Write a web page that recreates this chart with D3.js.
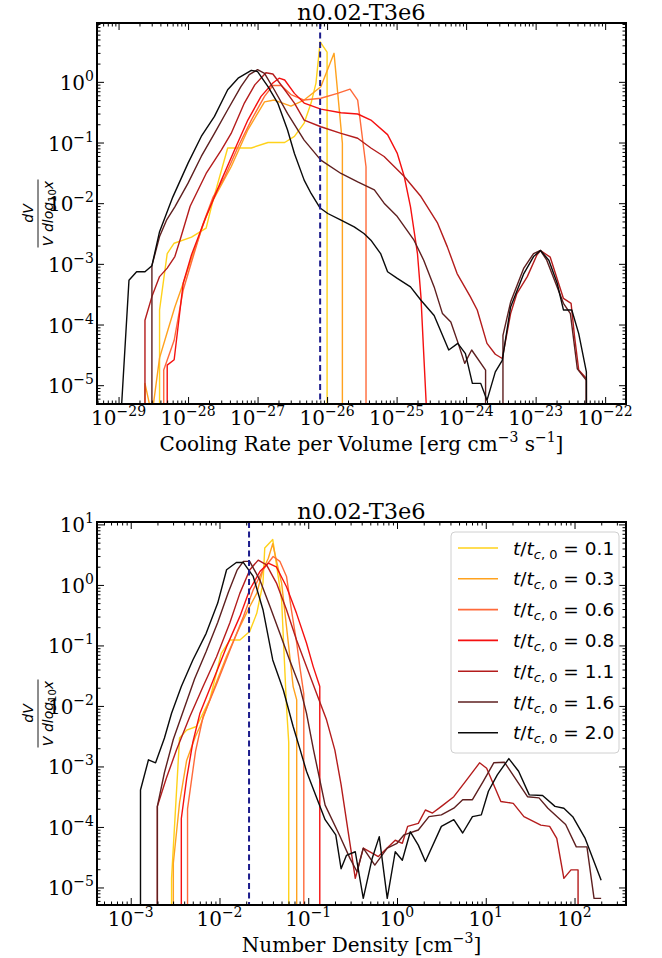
<!DOCTYPE html>
<html>
<head>
<meta charset="utf-8">
<script src="https://cdn.jsdelivr.net/npm/d3@7"></script>
<style>
  body { margin: 0; background: #fff; }
  svg { display: block; }
  text { white-space: pre; }
</style>
</head>
<body>
<svg id="chart" width="662" height="958"></svg>
<script>
// values as [log10 x, log10 y]; -30 marks an empty bin
const timeLabels = ["0.1", "0.3", "0.6", "0.8", "1.1", "1.6", "2.0"];

const coolT01 = [[-28.41,-30],[-28.41,-3.76],[-28.30,-2.83],[-28.20,-2.66],[-27.95,-2.56],[-27.74,-2.41],[-27.64,-1.95],[-27.43,-1.09],[-27.09,-1.09],[-26.85,-1.00],[-26.61,-1.00],[-26.47,-0.90],[-26.33,-0.68],[-26.23,-0.35],[-26.16,-0.02],[-26.10,0.66],[-26.00,0.49],[-26.00,-30]];
const coolT03 = [[-28.62,-30],[-28.62,-4.97],[-28.52,-5.5],[-28.41,-4.55],[-28.29,-4.09],[-28.19,-3.71],[-28.07,-3.32],[-27.95,-2.91],[-27.76,-2.28],[-27.64,-1.95],[-27.38,-1.40],[-27.14,-0.79],[-26.90,-0.33],[-26.76,-0.30],[-26.52,-0.40],[-26.33,-0.30],[-26.09,-0.08],[-25.90,0.47],[-25.78,-1.01],[-25.78,-30]];
const coolT06 = [[-28.35,-30],[-28.35,-4.75],[-28.20,-4.26],[-28.07,-3.43],[-27.95,-2.97],[-27.79,-2.36],[-27.64,-1.90],[-27.47,-1.56],[-27.28,-1.07],[-27.09,-0.63],[-26.90,-0.24],[-26.78,-0.06],[-26.66,-0.06],[-26.52,-0.21],[-26.33,-0.30],[-26.09,-0.27],[-25.85,-0.19],[-25.67,-0.12],[-25.56,-0.30],[-25.44,-1.40],[-25.44,-30]];
const coolT08 = [[-28.30,-30],[-28.30,-4.67],[-28.20,-4.58],[-28.07,-3.32],[-27.95,-2.85],[-27.74,-2.22],[-27.52,-1.62],[-27.33,-1.12],[-27.14,-0.63],[-26.95,-0.24],[-26.78,-0.02],[-26.69,0.06],[-26.61,0.03],[-26.47,-0.19],[-26.33,-0.35],[-26.09,-0.45],[-25.80,-0.51],[-25.56,-0.53],[-25.37,-0.63],[-25.13,-0.87],[-24.99,-1.18],[-24.89,-1.56],[-24.80,-2.06],[-24.70,-2.83],[-24.65,-3.54],[-24.61,-4.48],[-24.57,-5.4],[-24.50,-30]];
const coolT11 = [[-28.62,-30],[-28.62,-3.93],[-28.52,-3.54],[-28.41,-3.21],[-28.30,-3.07],[-28.19,-2.88],[-28.10,-2.55],[-27.97,-2.05],[-27.74,-1.51],[-27.52,-1.12],[-27.38,-0.85],[-27.19,-0.35],[-27.04,-0.05],[-26.88,0.15],[-26.78,0.13],[-26.61,-0.13],[-26.47,-0.35],[-26.33,-0.63],[-26.09,-0.74],[-25.80,-0.85],[-25.56,-0.93],[-25.37,-1.09],[-25.18,-1.23],[-24.89,-1.56],[-24.65,-1.89],[-24.41,-2.33],[-24.27,-2.72],[-24.13,-3.16],[-23.94,-3.54],[-23.84,-3.76],[-23.70,-4.31],[-23.58,-4.49],[-23.48,-4.56],[-23.36,-3.82],[-23.27,-3.49],[-23.12,-3.21],[-22.98,-2.85],[-22.93,-2.78],[-22.79,-2.89],[-22.60,-3.57],[-22.49,-3.65],[-22.44,-4.20],[-22.38,-4.75],[-22.27,-4.89],[-22.27,-30]];
const coolT16 = [[-28.52,-30],[-28.52,-3.03],[-28.41,-2.55],[-28.31,-2.28],[-28.19,-2.06],[-28.00,-1.67],[-27.81,-1.23],[-27.62,-0.85],[-27.43,-0.46],[-27.24,-0.08],[-27.12,0.12],[-27.00,0.20],[-26.90,0.14],[-26.76,-0.13],[-26.57,-0.52],[-26.33,-0.96],[-26.09,-1.29],[-25.80,-1.51],[-25.56,-1.65],[-25.32,-1.78],[-25.18,-2.00],[-24.99,-2.22],[-24.75,-2.61],[-24.61,-2.94],[-24.46,-3.38],[-24.34,-3.82],[-24.22,-3.96],[-24.12,-4.29],[-24.02,-4.64],[-23.92,-4.42],[-23.72,-4.75],[-23.71,-30],[-23.47,-30],[-23.47,-4.18],[-23.36,-3.63],[-23.17,-3.07],[-23.03,-2.83],[-22.93,-2.78],[-22.84,-2.94],[-22.60,-3.65],[-22.50,-3.82],[-22.40,-4.73],[-22.27,-4.92],[-22.27,-30]];
const coolT20 = [[-28.97,-5.6],[-28.85,-3.27],[-28.74,-3.13],[-28.62,-3.13],[-28.52,-3.03],[-28.41,-2.47],[-28.22,-1.90],[-28.00,-1.34],[-27.81,-0.90],[-27.62,-0.57],[-27.43,-0.13],[-27.28,0.06],[-27.09,0.19],[-27.00,0.17],[-26.85,-0.08],[-26.71,-0.35],[-26.57,-0.79],[-26.47,-1.18],[-26.33,-1.62],[-26.23,-1.84],[-26.10,-2.08],[-25.99,-2.17],[-25.80,-2.28],[-25.61,-2.39],[-25.47,-2.50],[-25.37,-2.61],[-25.23,-2.83],[-25.13,-3.13],[-24.99,-3.24],[-24.80,-3.38],[-24.65,-3.60],[-24.46,-3.85],[-24.25,-4.42],[-24.12,-4.31],[-24.01,-4.48],[-23.91,-4.97],[-23.79,-4.97],[-23.70,-5.25],[-23.58,-4.78],[-23.48,-4.59],[-23.36,-3.71],[-23.17,-3.16],[-23.03,-2.88],[-22.93,-2.78],[-22.81,-2.94],[-22.69,-3.32],[-22.60,-3.76],[-22.48,-3.76],[-22.38,-4.15],[-22.27,-4.78],[-22.27,-30]];

const densT01 = [[-2.54,-30],[-2.54,-4.85],[-2.45,-2.53],[-2.37,-2.40],[-2.26,-2.34],[-2.11,-1.90],[-1.98,-1.13],[-1.88,-0.91],[-1.77,-0.91],[-1.66,-0.77],[-1.58,-0.47],[-1.51,0.03],[-1.49,0.61],[-1.40,0.75],[-1.36,0.36],[-1.30,-0.25],[-1.245,-2.01],[-1.22,-2.6],[-1.22,-30]];
const densT03 = [[-2.52,-30],[-2.52,-4.6],[-2.45,-3.6],[-2.37,-2.9],[-2.27,-2.5],[-2.22,-2.34],[-2.07,-1.74],[-1.92,-1.18],[-1.77,-0.69],[-1.66,-0.36],[-1.58,-0.14],[-1.51,0.25],[-1.45,0.44],[-1.40,0.68],[-1.36,0.41],[-1.30,0.03],[-1.245,-0.69],[-1.17,-1.68],[-1.13,-1.9],[-1.13,-30]];
const densT06 = [[-2.36,-30],[-2.36,-3.7],[-2.27,-2.75],[-2.185,-2.18],[-2.03,-1.63],[-1.88,-1.07],[-1.73,-0.52],[-1.62,-0.08],[-1.51,0.25],[-1.395,0.47],[-1.32,0.39],[-1.245,0.14],[-1.19,-0.41],[-1.13,-0.96],[-1.095,-1.35],[-1.05,-1.8],[-1.05,-30]];
const densT08 = [[-2.43,-30],[-2.43,-3.86],[-2.37,-3.2],[-2.30,-2.6],[-2.22,-2.12],[-2.07,-1.57],[-1.92,-1.02],[-1.77,-0.52],[-1.66,-0.08],[-1.545,0.22],[-1.45,0.36],[-1.36,0.30],[-1.245,-0.03],[-1.132,-0.47],[-1.02,-0.96],[-0.944,-1.35],[-0.87,-1.68],[-0.87,-30]];
const densT11 = [[-2.70,-30],[-2.70,-3.66],[-2.60,-3.2],[-2.485,-2.73],[-2.335,-2.18],[-2.185,-1.68],[-2.034,-1.19],[-1.884,-0.63],[-1.771,-0.14],[-1.658,0.25],[-1.564,0.41],[-1.47,0.33],[-1.358,0.03],[-1.245,-0.41],[-1.132,-0.91],[-1.02,-1.35],[-0.907,-1.79],[-0.794,-2.23],[-0.70,-2.73],[-0.63,-3.30],[-0.55,-4.08],[-0.47,-4.85],[-0.38,-4.35],[-0.21,-4.49],[-0.02,-4.22],[0.06,-4.27],[0.12,-3.99],[0.24,-3.94],[0.32,-3.72],[0.40,-3.77],[0.50,-3.66],[0.64,-3.50],[0.77,-3.25],[0.93,-2.94],[1.01,-3.03],[1.17,-3.58],[1.31,-3.61],[1.43,-3.83],[1.62,-3.97],[1.72,-3.99],[1.80,-4.19],[1.88,-4.85],[1.96,-4.71],[2.04,-4.71],[2.04,-30]];
const densT16 = [[-2.70,-30],[-2.70,-3.66],[-2.62,-3.10],[-2.52,-2.55],[-2.40,-2.05],[-2.28,-1.55],[-2.15,-1.10],[-2.02,-0.62],[-1.90,-0.12],[-1.80,0.25],[-1.73,0.39],[-1.66,0.39],[-1.545,0.08],[-1.43,-0.36],[-1.32,-0.80],[-1.21,-1.24],[-1.095,-1.68],[-1.02,-2.12],[-0.94,-2.73],[-0.81,-3.64],[-0.65,-4.13],[-0.53,-4.52],[-0.45,-4.74],[-0.38,-4.35],[-0.25,-4.63],[-0.11,-4.35],[0.00,-4.27],[0.08,-4.13],[0.24,-4.05],[0.36,-3.83],[0.50,-3.80],[0.64,-3.69],[0.74,-3.55],[0.85,-3.55],[0.97,-3.25],[1.09,-2.94],[1.21,-2.93],[1.47,-3.50],[1.60,-3.52],[1.70,-3.69],[1.90,-3.96],[2.02,-4.33],[2.14,-4.33],[2.22,-5.18],[2.30,-5.18]];
const densT20 = [[-2.89,-30],[-2.89,-3.39],[-2.80,-2.89],[-2.72,-2.94],[-2.62,-2.53],[-2.54,-2.12],[-2.43,-1.68],[-2.30,-1.24],[-2.15,-0.80],[-2.02,-0.30],[-1.92,0.25],[-1.81,0.37],[-1.73,0.37],[-1.62,0.14],[-1.51,-0.41],[-1.40,-1.24],[-1.28,-1.74],[-1.17,-2.34],[-1.09,-2.73],[-1.02,-3.08],[-0.81,-3.88],[-0.69,-4.13],[-0.63,-4.69],[-0.57,-4.47],[-0.47,-4.41],[-0.38,-5.18],[-0.28,-4.52],[-0.20,-4.16],[-0.11,-5.18],[-0.02,-4.41],[0.06,-4.55],[0.15,-4.08],[0.24,-4.30],[0.32,-4.57],[0.50,-3.99],[0.64,-3.88],[0.74,-4.10],[0.85,-3.83],[0.95,-3.80],[1.03,-3.41],[1.13,-3.14],[1.26,-2.87],[1.37,-3.08],[1.49,-3.47],[1.64,-3.48],[1.78,-3.66],[1.88,-3.69],[1.98,-3.83],[2.12,-4.19],[2.30,-4.88]];

// axis limits and decades (log10)
const coolXLim = [-29.31, -21.70];
const coolYLim = [-5.31, 0.97];
const densXLim = [-3.38, 2.58];
const densYLim = [-5.29, 1.04];
const coolXDecades = [-29, -28, -27, -26, -25, -24, -23, -22];
const coolYDecades = [-5, -4, -3, -2, -1, 0];
const densXDecades = [-3, -2, -1, 0, 1, 2];
const densYDecades = [-5, -4, -3, -2, -1, 0, 1];
const coolRef = -26.1;
const densRef = -1.667;

const lineColors = ["#ffd21a", "#ffa21e", "#ff6a3a", "#f51010", "#b41c1c", "#5e1f1f", "#0a0a0a"];

const svg = d3.select("#chart");
const left = 97, right = 626;
const serif = "DejaVu Serif, serif";
const sans = "DejaVu Sans, sans-serif";

function powLabel(sel, exp) {
  sel.append("tspan").text("10");
  sel.append("tspan").attr("font-size", 14).attr("dy", -9)
    .text(exp < 0 ? "\u2212" + (-exp) : String(exp));
}

function drawPanel(p) {
  const g = svg.append("g");
  const x = d3.scaleLog().domain(p.xLim.map(v => 10 ** v)).range([left, right]);
  const y = d3.scaleLog().domain(p.yLim.map(v => 10 ** v)).range([p.bottom, p.top]);

  g.append("clipPath").attr("id", p.id)
    .append("rect").attr("x", left).attr("y", p.top)
    .attr("width", right - left).attr("height", p.bottom - p.top);

  const plot = g.append("g").attr("clip-path", `url(#${p.id})`);
  const line = d3.line().x(d => x(10 ** d[0])).y(d => y(10 ** d[1]));

  p.series.forEach((s, i) => {
    plot.append("path").datum(s)
      .attr("fill", "none")
      .attr("stroke", lineColors[i])
      .attr("stroke-width", 1.4)
      .attr("stroke-linejoin", "round")
      .attr("d", line);
  });

  plot.append("line")
    .attr("x1", x(10 ** p.ref)).attr("x2", x(10 ** p.ref))
    .attr("y1", p.top).attr("y2", p.bottom)
    .attr("stroke", "#1c1c8c").attr("stroke-width", 2)
    .attr("stroke-dasharray", "6,3.5");

  // ticks
  const minorOf = (lim) => {
    const out = [];
    for (let d = Math.floor(lim[0]); d <= Math.ceil(lim[1]); d++) {
      for (let m = 2; m <= 9; m++) {
        const v = m * 10 ** d;
        if (Math.log10(v) >= lim[0] && Math.log10(v) <= lim[1]) out.push(v);
      }
    }
    return out;
  };
  const xMajor = p.xDecades.map(d => 10 ** d);
  const yMajor = p.yDecades.map(d => 10 ** d);
  const xMinor = minorOf(p.xLim);
  const yMinor = minorOf(p.yLim);

  const addAxis = (axisFn, scale, values, size, transform) => {
    const a = g.append("g").attr("transform", transform)
      .call(axisFn(scale).tickValues(values).tickSize(-size).tickFormat(""));
    a.select(".domain").remove();
    a.selectAll("line").attr("stroke", "#000").attr("stroke-width", 1);
  };
  addAxis(d3.axisBottom, x, xMajor, 7, `translate(0,${p.bottom})`);
  addAxis(d3.axisBottom, x, xMinor, 3.5, `translate(0,${p.bottom})`);
  addAxis(d3.axisTop, x, xMajor, 7, `translate(0,${p.top})`);
  addAxis(d3.axisTop, x, xMinor, 3.5, `translate(0,${p.top})`);
  addAxis(d3.axisLeft, y, yMajor, 7, `translate(${left},0)`);
  addAxis(d3.axisLeft, y, yMinor, 3.5, `translate(${left},0)`);
  addAxis(d3.axisRight, y, yMajor, 7, `translate(${right},0)`);
  addAxis(d3.axisRight, y, yMinor, 3.5, `translate(${right},0)`);

  // tick labels
  p.xDecades.forEach(d => {
    const t = g.append("text")
      .attr("x", x(10 ** d)).attr("y", p.bottom + 21)
      .attr("text-anchor", "middle")
      .attr("font-family", serif).attr("font-size", 20).attr("fill", "#000");
    powLabel(t, d);
  });
  p.yDecades.forEach(d => {
    const t = g.append("text")
      .attr("x", left - 3).attr("y", y(10 ** d) + 8)
      .attr("text-anchor", "end")
      .attr("font-family", serif).attr("font-size", 20).attr("fill", "#000");
    powLabel(t, d);
  });

  // frame
  g.append("rect")
    .attr("x", left).attr("y", p.top)
    .attr("width", right - left).attr("height", p.bottom - p.top)
    .attr("fill", "none").attr("stroke", "#000").attr("stroke-width", 2);

  // title
  g.append("text")
    .attr("x", (left + right) / 2).attr("y", p.top - 3)
    .attr("text-anchor", "middle")
    .attr("font-family", serif).attr("font-size", 22.5)
    .text("n0.02-T3e6");

  // x label
  const xl = g.append("text")
    .attr("x", (left + right) / 2).attr("y", p.bottom + 46.5)
    .attr("text-anchor", "middle")
    .attr("font-family", serif).attr("font-size", 20);
  p.xLabel.forEach(part => {
    const ts = xl.append("tspan").text(part.t);
    if (part.sup) ts.attr("font-size", 14).attr("dy", -9);
    if (part.down) ts.attr("dy", 9);
  });

  // y label: dV / (V dlog10 x)
  const cy = (p.top + p.bottom) / 2;
  const yl = g.append("g").attr("transform", `translate(38,${cy}) rotate(-90)`)
    .attr("font-family", sans).attr("font-size", 14);
  yl.append("text").attr("x", 0).attr("y", -5).attr("text-anchor", "middle")
    .attr("font-style", "italic").text("dV");
  yl.append("line").attr("x1", -34).attr("x2", 34).attr("y1", 0).attr("y2", 0)
    .attr("stroke", "#000").attr("stroke-width", 0.9);
  const den = yl.append("text").attr("x", 0).attr("y", 15).attr("text-anchor", "middle");
  den.append("tspan").attr("font-style", "italic").text("V dlog");
  den.append("tspan").attr("font-size", 10).attr("dy", 3).text("10");
  den.append("tspan").attr("font-style", "italic").attr("dy", -3).text("x");

  return { g, x, y };
}

drawPanel({
  id: "clipCool", top: 23, bottom: 404,
  xLim: coolXLim, yLim: coolYLim,
  xDecades: coolXDecades, yDecades: coolYDecades,
  series: [coolT01, coolT03, coolT06, coolT08, coolT11, coolT16, coolT20],
  ref: coolRef,
  xLabel: [{ t: "Cooling Rate per Volume [erg cm" }, { t: "\u22123", sup: true }, { t: " s", down: true }, { t: "\u22121", sup: true }, { t: "]", down: true }]
});

const bottomPanel = drawPanel({
  id: "clipDens", top: 522, bottom: 905,
  xLim: densXLim, yLim: densYLim,
  xDecades: densXDecades, yDecades: densYDecades,
  series: [densT01, densT03, densT06, densT08, densT11, densT16, densT20],
  ref: densRef,
  xLabel: [{ t: "Number Density [cm" }, { t: "\u22123", sup: true }, { t: "]", down: true }]
});

// legend in the lower panel
const leg = bottomPanel.g.append("g");
leg.append("rect")
  .attr("x", 451).attr("y", 532).attr("width", 168).attr("height", 221)
  .attr("rx", 4).attr("fill", "#fff").attr("fill-opacity", 0.85)
  .attr("stroke", "#d0d0d0").attr("stroke-width", 1);
timeLabels.forEach((lab, i) => {
  const ry = 548 + i * 30.8;
  leg.append("line").attr("x1", 458).attr("x2", 498).attr("y1", ry).attr("y2", ry)
    .attr("stroke", lineColors[i]).attr("stroke-width", 1.6);
  const t = leg.append("text").attr("x", 513).attr("y", ry + 6.5)
    .attr("font-family", sans).attr("font-size", 18.5).attr("fill", "#000");
  t.append("tspan").attr("font-style", "italic").text("t");
  t.append("tspan").text("/");
  t.append("tspan").attr("font-style", "italic").text("t");
  t.append("tspan").attr("font-size", 13).attr("dy", 4).attr("font-style", "italic").text("c");
  t.append("tspan").attr("font-size", 13).text(", 0");
  t.append("tspan").attr("dy", -4).text(" = " + lab);
});
</script>
</body>
</html>
